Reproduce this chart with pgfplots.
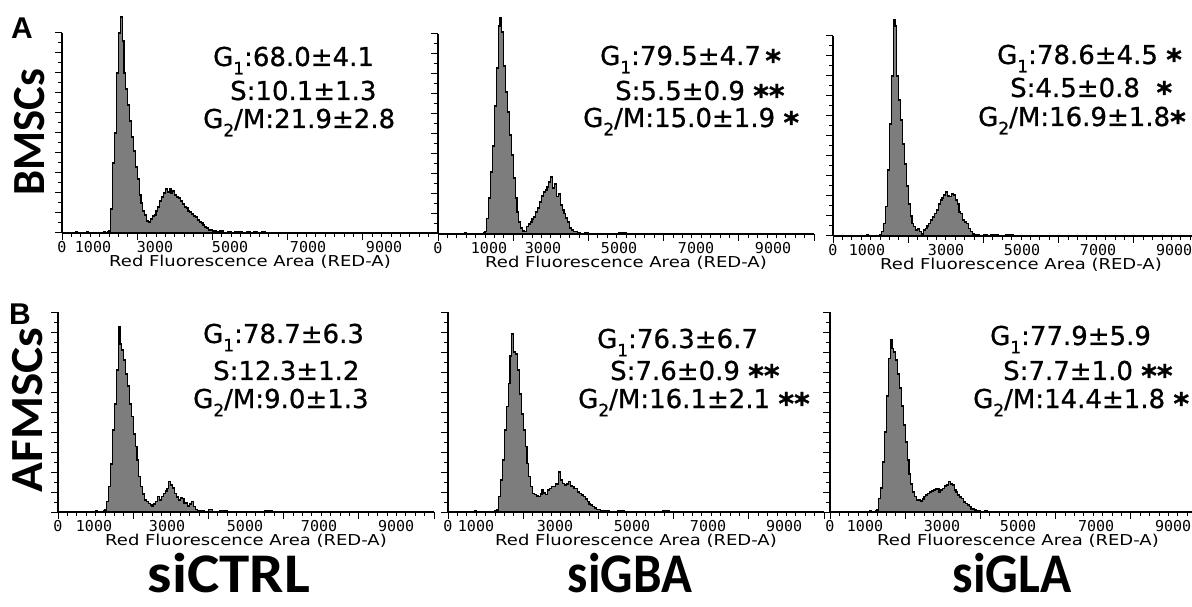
\documentclass[border=0pt]{standalone}
\usepackage{fontspec}
\usepackage{graphicx}
\usepackage{pgfplots}
\pgfplotsset{compat=1.18}
\setmainfont{DejaVu Sans}
\newfontfamily\calb{Carlito}
\newfontfamily\monof{DejaVu Sans Mono}
\newfontfamily\widef[FakeStretch=1.2]{DejaVu Sans}
\newfontfamily\annf[FakeBold=0.8]{DejaVu Sans}
\newfontfamily\arialb{Liberation Sans}
\definecolor{histgray}{RGB}{125,125,125}

\newcommand\sub[1]{\raisebox{-0.32em}{\fontsize{17}{17}\selectfont #1}}
\newcommand\st{\smash{\raisebox{-0.24em}{\fontsize{30}{30}\selectfont\bfseries *}}}
\newcommand\annfont{\annf\fontsize{26}{26}\selectfont}

\pgfplotsset{
  flow/.style={
    scale only axis, width=376pt, height=200pt,
    xmin=0, xmax=10000, ymin=0, ymax=100,
    axis lines=left,
    axis line style={-, line width=1.3pt},
    clip=false,
    tick align=outside,
    scaled x ticks=false,
    xtick={0,2000,...,10000}, xticklabels={},
    minor xtick={0,250,...,10000},
    ytick={0,10,...,100}, yticklabels={},
    minor ytick={5,15,...,95},
    major tick length=7pt, minor tick length=4pt,
    tick style={black, line width=1pt},
    extra x tick labels={0,1000,3000,5000,7000,9000},
    extra x tick style={major tick length=0pt,
      tick label style={font=\monof\fontsize{15}{15}\selectfont, anchor=north, inner sep=0pt, yshift=-8pt}},
    xlabel={Red Fluorescence Area (RED-A)},
    xlabel style={font=\widef\fontsize{15}{15}\selectfont, at={(axis description cs:0.5,0)}, anchor=center, yshift=-29pt},
  },
  hist/.style={const plot, fill=histgray, draw=black, line width=1.1pt},
}

\begin{document}
\begin{tikzpicture}
\useasboundingbox (0pt,0pt) rectangle (1192pt,606pt);

% ---- row A : BMSCs ----
\begin{axis}[flow, at={(62pt,373pt)}, anchor=south west, extra x ticks={0,825,2474,4469,6544,8565}]
\addplot[hist] coordinates {(0,0) (350,0.5) (400,0) (650,0.6) (700,0) (900,0.4) (950,0) (1100,0.5) (1150,0) (1200,0.5) (1250,1) (1300,12) (1350,35) (1400,50) (1450,80) (1500,100) (1550,108) (1600,96) (1650,80) (1700,72) (1750,64) (1800,56) (1850,48) (1900,41) (1950,33) (2000,27) (2050,19) (2100,15) (2150,11) (2200,9) (2250,6) (2300,5.5) (2350,7) (2400,8.5) (2450,9) (2500,11) (2550,13) (2600,16) (2650,18) (2700,20) (2750,22) (2800,20.5) (2850,22) (2900,20) (2950,21) (3000,19) (3050,18) (3100,17.5) (3150,16) (3200,14.5) (3250,13) (3300,12.5) (3350,11) (3400,10.5) (3450,9.5) (3500,8.5) (3550,8) (3600,6.5) (3650,5.5) (3700,5) (3750,4) (3800,3) (3850,2.5) (3900,1.5) (3950,1.5) (4000,1) (4100,0.5) (4200,1) (4300,0.4) (4400,0.8) (4500,0.3) (4600,0.7) (4700,0.5) (4800,0.3) (4900,0.6) (5000,0.4) (5100,0.5) (5200,0.2) (5300,0.5) (5400,0.3) (5500,0.4) (5600,0.2) (5700,0.4) (5800,0.2) (5900,0.3) (6100,0.3) (6300,0.2) (6500,0.3) (6700,0)} \closedcycle;
\end{axis}

\begin{axis}[flow, at={(438pt,372pt)}, anchor=south west, extra x ticks={0,1357,2793,4815,6863,8911}]
\addplot[hist] coordinates {(0,0) (300,0.4) (350,0) (700,0.5) (750,0) (1000,0.4) (1050,0) (1200,0.5) (1250,1.2) (1300,7.8) (1350,18) (1400,31) (1450,44) (1500,64) (1550,83) (1600,104) (1650,108) (1700,101) (1750,84) (1800,71) (1850,61) (1900,49.5) (1950,39.5) (2000,28) (2050,18) (2100,11) (2150,6) (2200,3) (2250,1.5) (2300,1.2) (2350,3.7) (2400,5) (2450,6) (2500,7.5) (2550,8.5) (2600,11) (2650,13) (2700,16) (2750,19) (2800,21) (2850,22) (2900,23.5) (2950,26) (3000,28.5) (3050,23) (3100,25) (3150,18.7) (3200,20) (3250,14.5) (3300,12) (3350,10.3) (3400,8) (3450,6) (3500,3) (3550,2) (3600,1.2) (3700,0.5) (3800,0.3) (3900,0.5) (4000,0.2) (4100,0.4) (4200,0.3) (4400,0.4) (4600,0.3) (4800,0.5) (5000,0.3) (5200,0.4) (5400,0.2) (5600,0.3) (5800,0) (6200,0.3) (6300,0)} \closedcycle;
\end{axis}

\begin{axis}[flow, at={(833pt,370pt)}, anchor=south west, extra x ticks={0,904,3006,5027,7049,9071}]
\addplot[hist] coordinates {(0,0) (400,0.4) (450,0) (900,0.5) (950,0) (1100,0.4) (1150,0) (1250,0.5) (1300,2.2) (1350,6.3) (1400,14.7) (1450,33) (1500,56) (1550,80) (1600,108) (1650,105) (1700,80) (1750,68) (1800,58) (1850,46) (1900,36) (1950,25) (2000,16) (2050,10) (2100,6.3) (2150,4.7) (2200,3) (2250,3.5) (2300,2.2) (2350,1) (2400,3) (2450,3.8) (2500,5) (2550,6.3) (2600,8) (2650,9.5) (2700,11.3) (2750,13) (2800,16) (2850,18) (2900,19) (2950,20.5) (3000,22) (3050,20) (3100,19.7) (3150,21) (3200,20.5) (3250,18) (3300,16) (3350,12) (3400,11.3) (3450,8) (3500,7) (3550,6.3) (3600,3.8) (3650,2.2) (3700,1) (3750,0.5) (3900,0.4) (4000,0.6) (4100,0.3) (4200,0.5) (4400,0.3) (4600,0.5) (4800,0.3) (5000,0.4) (5200,0.3) (5400,0.4) (5600,0.2) (5800,0.3) (6000,0.2) (6200,0.3) (6400,0)} \closedcycle;
\end{axis}

% ---- row B : AFMSCs ----
\begin{axis}[flow, at={(58pt,94pt)}, anchor=south west, extra x ticks={0,958,2900,4974,6943,8991}]
\addplot[hist] coordinates {(0,0) (500,0.4) (550,0) (800,0.4) (850,0) (1000,0.5) (1050,0) (1200,0.5) (1250,1) (1300,5.2) (1350,12.7) (1400,24) (1450,41) (1500,54) (1550,71) (1600,92.7) (1650,84) (1700,81) (1750,76) (1800,69) (1850,63) (1900,54) (1950,47.7) (2000,39) (2050,32.7) (2100,26) (2150,17.7) (2200,12.7) (2250,9) (2300,6) (2350,5.2) (2400,4.3) (2450,3.5) (2500,2.7) (2550,4) (2600,5.2) (2650,7.7) (2700,6) (2750,7.7) (2800,9.3) (2850,10.5) (2900,11.8) (2950,15.2) (3000,13.5) (3050,12) (3100,9.3) (3150,7.5) (3200,6) (3250,7) (3300,6.8) (3350,4.3) (3400,4.5) (3450,3) (3500,4) (3550,5.2) (3600,2.7) (3650,1.4) (3700,0.7) (3800,0.5) (3900,0.3) (4000,1.2) (4100,0.3) (4300,0.5) (4500,0.3) (4700,0.4) (4900,0.3) (5100,0.4) (5300,0.2) (5500,0.5) (5700,0.2) (5900,0.3) (6100,0.2) (6300,0)} \closedcycle;
\end{axis}

\begin{axis}[flow, at={(448pt,94pt)}, anchor=south west, extra x ticks={0,745,2846,4894,6916,8938}]
\addplot[hist] coordinates {(0,0) (350,0.4) (400,0) (700,0.5) (750,0) (1000,0.4) (1050,0) (1250,0.5) (1300,1) (1350,7.7) (1400,16) (1450,26) (1500,41) (1550,52.7) (1600,64.3) (1650,78) (1700,89) (1750,80) (1800,79) (1850,71) (1900,59) (1950,49) (2000,41) (2050,32.7) (2100,24.3) (2150,17.7) (2200,12.7) (2250,9.3) (2300,8.8) (2350,8) (2400,7.7) (2450,9) (2500,11) (2550,9.5) (2600,8.8) (2650,11) (2700,11.8) (2750,12.7) (2800,12.7) (2850,14.3) (2900,14) (2950,20) (3000,16) (3050,14.3) (3100,13.5) (3150,14) (3200,15.2) (3250,13) (3300,12.7) (3350,11.8) (3400,11.8) (3450,10) (3500,9.3) (3550,8.5) (3600,7.7) (3650,6.5) (3700,5.2) (3750,4) (3800,3.5) (3850,2.7) (3900,2) (3950,1.4) (4050,0.7) (4150,0.5) (4300,0.4) (4500,0.6) (4700,0.3) (4900,0.4) (5100,0.3) (5300,0.4) (5500,0.3) (5700,0.5) (5900,0.2) (6100,0.3) (6300,0.2) (6500,0)} \closedcycle;
\end{axis}

\begin{axis}[flow, at={(830pt,94pt)}, anchor=south west, extra x ticks={0,931,2979,5001,7076,9124}]
\addplot[hist] coordinates {(0,0) (800,0.4) (850,0) (1050,0.5) (1100,0) (1200,0.5) (1250,1) (1300,6.8) (1350,12) (1400,25) (1450,40) (1500,58) (1550,76.8) (1600,86) (1650,81.8) (1700,80) (1750,76) (1800,69) (1850,62) (1900,53) (1950,43.5) (2000,35) (2050,26) (2100,19) (2150,14) (2200,10) (2250,7.7) (2300,6) (2350,6) (2400,5.5) (2450,6.5) (2500,7.7) (2550,8.5) (2600,9.3) (2650,10) (2700,10.5) (2750,11) (2800,11.5) (2850,11.8) (2900,10) (2950,11) (3000,11.8) (3050,13) (3100,13.5) (3150,15.2) (3200,14) (3250,13.5) (3300,11) (3350,10) (3400,8.5) (3450,7.5) (3500,6.8) (3550,5) (3600,4.3) (3650,3.5) (3700,2.7) (3750,1.5) (3850,1) (3900,0.5) (4000,0.3) (4100,0.8) (4200,0.3) (4400,0.4) (4600,0.3) (4800,0.4) (5000,0.3) (5200,0.4) (5400,0.2) (5600,0.3) (5800,0.2) (6000,0)} \closedcycle;
\end{axis}

% ---- phase percentages ----
\begin{scope}[every node/.style={anchor=base west, inner sep=0pt, font=\annfont}]
\node at (213pt,540pt) {G\sub{1}:68.0±4.1};
\node at (230pt,506pt) {S:10.1±1.3};
\node at (203pt,478pt) {G\sub{2}/M:21.9±2.8};
\node at (600pt,541pt) {G\sub{1}:79.5±4.7\,\st};
\node at (615pt,506pt) {S:5.5±0.9 \st\st};
\node at (583pt,479pt) {G\sub{2}/M:15.0±1.9 \st};
\node at (997pt,542pt) {G\sub{1}:78.6±4.5 \st};
\node at (1010pt,509pt) {S:4.5±0.8 \ \st};
\node at (978pt,480pt) {G\sub{2}/M:16.9±1.8\st};
\node at (203pt,263pt) {G\sub{1}:78.7±6.3};
\node at (213pt,226pt) {S:12.3±1.2};
\node at (193pt,198pt) {G\sub{2}/M:9.0±1.3};
\node at (597pt,258pt) {G\sub{1}:76.3±6.7};
\node at (610pt,226pt) {S:7.6±0.9 \st\st};
\node at (578pt,198pt) {G\sub{2}/M:16.1±2.1 \st\st};
\node at (990pt,261pt) {G\sub{1}:77.9±5.9};
\node at (1003pt,226pt) {S:7.7±1.0 \st\st};
\node at (973pt,198pt) {G\sub{2}/M:14.4±1.8 \st};
\end{scope}

% ---- row / column labels ----
\node[rotate=90, inner sep=0pt] at (30pt,474pt) {\calb\bfseries\fontsize{46}{46}\selectfont\scalebox{0.97}[1]{BMSCs}};
\node[rotate=90, inner sep=0pt] at (28pt,196pt) {\calb\bfseries\fontsize{46}{46}\selectfont\scalebox{1.07}[1]{AFMSCs}};
\node[inner sep=0pt] at (22pt,578pt) {\arialb\bfseries\fontsize{30}{30}\selectfont A};
\node[inner sep=0pt] at (20pt,292pt) {\arialb\bfseries\fontsize{30}{30}\selectfont B};
\node[anchor=base, inner sep=0pt] at (229pt,14pt) {\calb\bfseries\fontsize{56}{56}\selectfont\scalebox{1.09}[1]{siCTRL}};
\node[anchor=base, inner sep=0pt] at (630pt,14pt) {\calb\bfseries\fontsize{56}{56}\selectfont\scalebox{0.91}[1]{siGBA}};
\node[anchor=base, inner sep=0pt] at (1012pt,14pt) {\calb\bfseries\fontsize{56}{56}\selectfont\scalebox{0.92}[1]{siGLA}};
\end{tikzpicture}
\end{document}
